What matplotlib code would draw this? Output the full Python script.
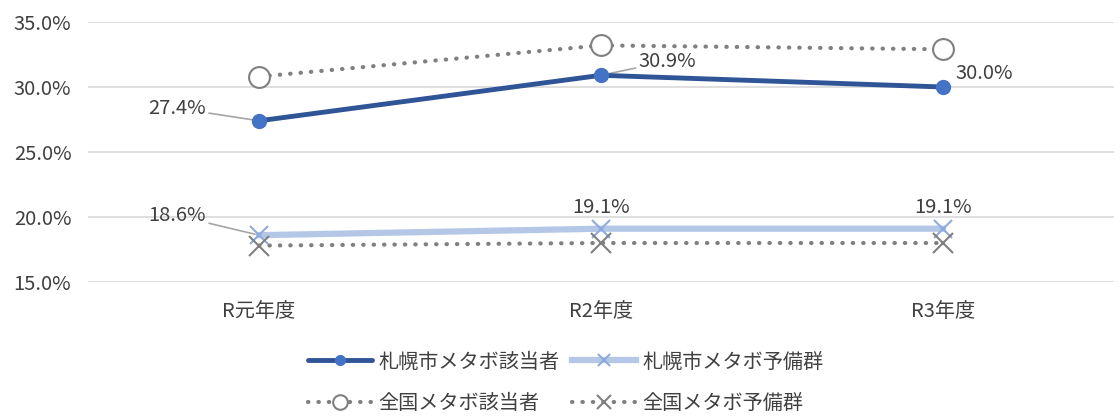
import matplotlib.pyplot as plt
from matplotlib.ticker import FuncFormatter

plt.rcParams['font.family'] = ['Noto Sans CJK JP', 'DejaVu Sans']

# データ
years = ['R元年度', 'R2年度', 'R3年度']
sapporo_metabo = [27.4, 30.9, 30.0]
sapporo_yobi = [18.6, 19.1, 19.1]
zenkoku_metabo = [30.8, 33.2, 32.9]
zenkoku_yobi = [17.8, 18.0, 18.0]
names = ['札幌市メタボ該当者', '札幌市メタボ予備群', '全国メタボ該当者', '全国メタボ予備群']

fig = plt.figure(figsize=(11.2, 4.19), dpi=100)
ax = fig.add_axes([0.0786, 0.327, 0.916, 0.6205])
x = list(range(len(years)))

gray = '#808080'
h_sm, = ax.plot(x, sapporo_metabo, color='#2F5597', lw=3.5, marker='o', ms=10,
                mfc='#4472C4', mec='#4472C4', zorder=4, solid_capstyle='round')
h_sy, = ax.plot(x, sapporo_yobi, color='#B4C7E7', lw=4.5, marker='x', ms=13,
                mec='#8FAADC', mew=1.5, zorder=3)
h_zm, = ax.plot(x, zenkoku_metabo, color=gray, lw=3, ls=(0, (0.1, 2.4)),
                dash_capstyle='round', marker='o', ms=15, mfc='white', mec=gray,
                mew=1.5, zorder=3)
h_zy, = ax.plot(x, zenkoku_yobi, color=gray, lw=3, ls=(0, (0.1, 2.4)),
                dash_capstyle='round', marker='x', ms=15, mec=gray, mew=1.5, zorder=3)

ax.set_xlim(-0.5, 2.5)
ax.set_ylim(15, 35)
ax.set_yticks([15, 20, 25, 30, 35])
ax.yaxis.set_major_formatter(FuncFormatter(lambda v, p: f'{v:.1f}%'))
ax.set_xticks(x)
ax.set_xticklabels(years)
ax.tick_params(axis='both', length=0, labelsize=14.5, colors='#404040')
ax.tick_params(axis='x', pad=14)
ax.tick_params(axis='y', pad=12)
ax.grid(axis='y', color='#D9D9D9', lw=1.2)
ax.set_axisbelow(True)
for s in ax.spines.values():
    s.set_visible(False)

# データラベル
lab = dict(fontsize=14.5, color='#404040')
line = dict(arrowstyle='-', color='#A6A6A6', lw=1.2, shrinkA=0, shrinkB=3)
ax.annotate(f'{sapporo_metabo[0]:.1f}%', xy=(x[0], sapporo_metabo[0]), xytext=(-38, 9),
            textcoords='offset points', ha='right', va='center',
            arrowprops=line, **lab)
ax.annotate(f'{sapporo_metabo[1]:.1f}%', xy=(x[1], sapporo_metabo[1]), xytext=(27, 10),
            textcoords='offset points', ha='left', va='center',
            arrowprops=line, **lab)
ax.annotate(f'{sapporo_metabo[2]:.1f}%', xy=(x[2], sapporo_metabo[2]), xytext=(9, 10),
            textcoords='offset points', ha='left', va='center', **lab)
ax.annotate(f'{sapporo_yobi[0]:.1f}%', xy=(x[0], sapporo_yobi[0]), xytext=(-38, 14),
            textcoords='offset points', ha='right', va='center',
            arrowprops=line, **lab)
for i in (1, 2):
    ax.annotate(f'{sapporo_yobi[i]:.1f}%', xy=(x[i], sapporo_yobi[i]), xytext=(0, 15),
                textcoords='offset points', ha='center', va='center', **lab)

fig.legend([h_sm, h_zm, h_sy, h_zy], [names[0], names[2], names[1], names[3]],
           ncol=2, loc='center', bbox_to_anchor=(0.505, 0.087), frameon=False,
           fontsize=14.5, labelcolor='#404040', handlelength=3.2, handletextpad=0.3,
           columnspacing=0.6, labelspacing=1.0, markerscale=0.7)

fig.savefig('out.png', dpi=100)
